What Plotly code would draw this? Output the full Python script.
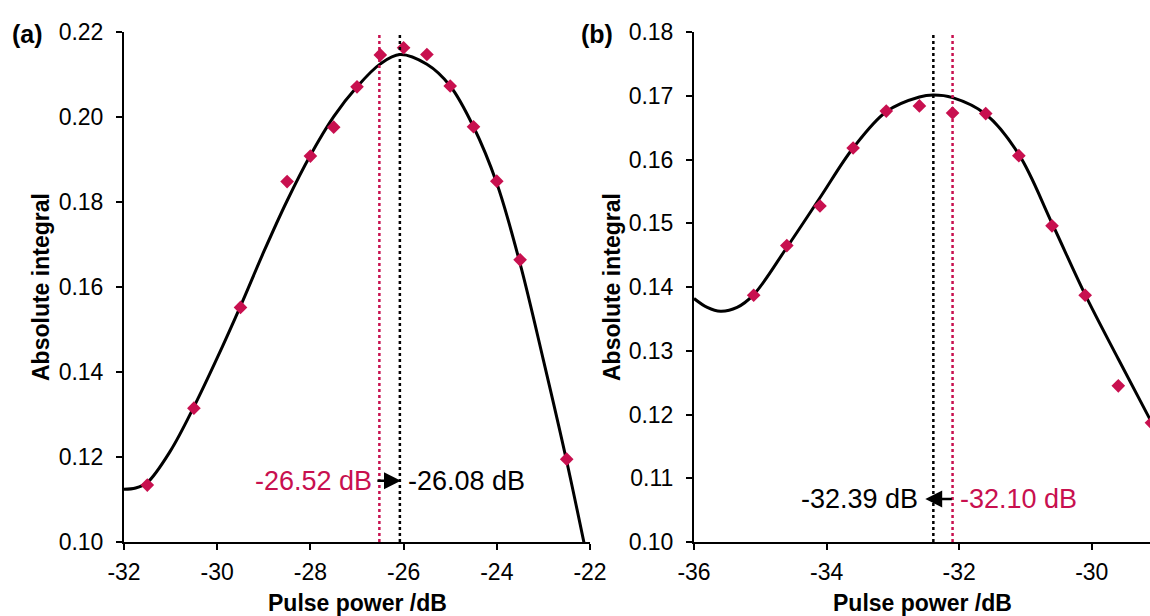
import plotly.graph_objects as go

# ---------------- data ----------------
# Panel (a): measured absolute integral vs pulse power
power_a = [-31.5, -30.5, -29.5, -28.5, -28.0, -27.5, -27.0, -26.5, -26.0,
           -25.5, -25.0, -24.5, -24.0, -23.5, -22.5]
integral_a = [0.1134, 0.1315, 0.1552, 0.1848, 0.1908, 0.1976, 0.2071, 0.2146,
              0.2163, 0.2147, 0.2073, 0.1977, 0.1849, 0.1664, 0.1195]
# Panel (a): fitted curve
fit_power_a = [-32.0, -31.75, -31.5, -31.0, -30.5, -30.0, -29.5, -29.0, -28.5,
               -28.0, -27.5, -27.0, -26.5, -26.08, -25.5, -25.0, -24.5, -24.0,
               -23.5, -23.0, -22.5, -22.0]
fit_integral_a = [0.1124, 0.1127, 0.1140, 0.1215, 0.1318, 0.1433, 0.1555,
                  0.1683, 0.1803, 0.1910, 0.2001, 0.2071, 0.2125, 0.2147,
                  0.2124, 0.2073, 0.1977, 0.1844, 0.1655, 0.1428, 0.1190, 0.0930]
# Panel (a): optimum powers [data maximum, fit maximum]
peak_a = [-26.52, -26.08]

# Panel (b): measured absolute integral vs pulse power
power_b = [-35.1, -34.6, -34.1, -33.6, -33.1, -32.6, -32.1, -31.6, -31.1,
           -30.6, -30.1, -29.6, -29.1]
integral_b = [0.1387, 0.1465, 0.1527, 0.1618, 0.1676, 0.1684, 0.1673, 0.1672,
              0.1606, 0.1496, 0.1387, 0.1245, 0.1187]
# Panel (b): fitted curve
fit_power_b = [-36.0, -35.8, -35.6, -35.35, -35.1, -34.6, -34.1, -33.6, -33.1,
               -32.6, -32.39, -32.1, -31.6, -31.1, -30.6, -30.1, -29.6, -29.1,
               -28.6]
fit_integral_b = [0.1382, 0.1368, 0.1362, 0.1368, 0.1388, 0.1462, 0.1540,
                  0.1618, 0.1675, 0.1698, 0.1701, 0.1697, 0.1671, 0.1608,
                  0.1500, 0.1388, 0.1287, 0.1188, 0.1092]
# Panel (b): optimum powers [fit maximum, data maximum]
peak_b = [-32.39, -32.10]

ticks_x_a = [-32, -30, -28, -26, -24, -22]
ticks_x_b = [-36, -34, -32, -30]
ticks_y_a = [0.10, 0.12, 0.14, 0.16, 0.18, 0.20, 0.22]
ticks_y_b = [0.10, 0.11, 0.12, 0.13, 0.14, 0.15, 0.16, 0.17, 0.18]

# ---------------- styling ----------------
RED = "#C8104F"
BLACK = "#000000"
FONT = "Liberation Sans, Arial, sans-serif"

fig = go.Figure()


def add_panel(xa, ya, fit_x, fit_y, px, py):
    fig.add_trace(go.Scatter(x=fit_x, y=fit_y, mode="lines",
                             line=dict(color=BLACK, width=3, shape="spline", smoothing=1.0),
                             xaxis=xa, yaxis=ya, showlegend=False, hoverinfo="skip"))
    fig.add_trace(go.Scatter(x=px, y=py, mode="markers",
                             marker=dict(symbol="diamond", size=10.5, color=RED),
                             xaxis=xa, yaxis=ya, showlegend=False))


add_panel("x", "y", fit_power_a, fit_integral_a, power_a, integral_a)
add_panel("x2", "y2", fit_power_b, fit_integral_b, power_b, integral_b)

# vertical dotted markers of the optimum powers
for xa, ya, xv, col, yr in [
    ("x", "y", peak_a[0], RED, [ticks_y_a[0], ticks_y_a[-1]]),
    ("x", "y", peak_a[1], BLACK, [ticks_y_a[0], ticks_y_a[-1]]),
    ("x2", "y2", peak_b[0], BLACK, [ticks_y_b[0], ticks_y_b[-1]]),
    ("x2", "y2", peak_b[1], RED, [ticks_y_b[0], ticks_y_b[-1]]),
]:
    fig.add_trace(go.Scatter(x=[xv, xv], y=yr, mode="lines",
                             line=dict(color=col, width=2.5, dash="dot"),
                             xaxis=xa, yaxis=ya, showlegend=False, hoverinfo="skip"))

axis_common = dict(showline=True, linecolor=BLACK, linewidth=2, ticks="outside",
                   ticklen=6, tickwidth=2, tickcolor=BLACK, showgrid=False,
                   zeroline=False, automargin=False,
                   tickfont=dict(family=FONT, size=23, color=BLACK))

W, H = 1150, 616
L, R, T, B = 124, 0, 32, 74
pw = W - L - R
xa_end = (590 - L) / pw
xb_start = (694 - L) / pw

fig.update_layout(
    width=W, height=H, margin=dict(l=L, r=R, t=T, b=B, autoexpand=False),
    paper_bgcolor="white", plot_bgcolor="white",
    font=dict(family=FONT, color=BLACK),
    xaxis=dict(domain=[0, xa_end], range=[-32, -22], tickvals=ticks_x_a,
               ticktext=[str(v) for v in ticks_x_a],
               anchor="y", ticklabelstandoff=2, **axis_common),
    yaxis=dict(domain=[0, 1], range=[0.10, 0.22], tickvals=ticks_y_a,
               ticktext=[f"{v:.2f}" for v in ticks_y_a],
               anchor="x", ticklabelstandoff=8, **axis_common),
    xaxis2=dict(domain=[xb_start, 1], range=[-36, -29.122], tickvals=ticks_x_b,
                ticktext=[str(v) for v in ticks_x_b],
                anchor="y2", ticklabelstandoff=2, **axis_common),
    yaxis2=dict(domain=[0, 1], range=[0.10, 0.18], tickvals=ticks_y_b,
                ticktext=[f"{v:.2f}" for v in ticks_y_b],
                anchor="x2", ticklabelstandoff=8, **axis_common),
)

ann = []
# axis titles, centred under / beside each plot area
for x0, x1 in [(0, xa_end), (xb_start, 1)]:
    ann.append(dict(text="<b>Pulse power /dB</b>", xref="paper", yref="paper",
                    x=(x0 + x1) / 2, y=0, yshift=-61, xanchor="center", yanchor="middle",
                    showarrow=False, font=dict(family=FONT, size=23, color=BLACK)))
for xc in [41, 612]:
    ann.append(dict(text="<b>Absolute integral</b>", xref="paper", yref="paper",
                    x=(xc - L) / pw, y=0.5, xanchor="center", yanchor="middle",
                    textangle=-90, showarrow=False,
                    font=dict(family=FONT, size=23, color=BLACK)))
# panel labels
for xc, lab in [(27, "(a)"), (597, "(b)")]:
    ann.append(dict(text=f"<b>{lab}</b>", xref="paper", yref="paper",
                    x=(xc - L) / pw, y=1, yshift=-2, xanchor="center", yanchor="middle",
                    showarrow=False, font=dict(family=FONT, size=25, color=BLACK)))

# optimum-power labels and arrows (shift from the data optimum to the fit optimum)
ya_lab, yb_lab = 0.1144, 0.10675
lab_font = 27
ann += [
    dict(text=f"{peak_a[0]:.2f} dB", xref="x", yref="y", x=peak_a[0], y=ya_lab,
         xanchor="right", yanchor="middle", xshift=-5, showarrow=False,
         font=dict(family=FONT, size=lab_font, color=RED)),
    dict(text=f"{peak_a[1]:.2f} dB", xref="x", yref="y", x=peak_a[1], y=ya_lab,
         xanchor="left", yanchor="middle", xshift=6, showarrow=False,
         font=dict(family=FONT, size=lab_font, color=BLACK)),
    dict(text="", xref="x", yref="y", x=peak_a[1], y=ya_lab, xshift=1,
         ax=-25, ay=0, showarrow=True, arrowhead=2, arrowsize=1.35,
         arrowwidth=2.5, arrowcolor=BLACK, standoff=0, startstandoff=0),
    dict(text=f"{peak_b[0]:.2f} dB", xref="x2", yref="y2", x=peak_b[0], y=yb_lab,
         xanchor="right", yanchor="middle", xshift=-13, showarrow=False,
         font=dict(family=FONT, size=lab_font, color=BLACK)),
    dict(text=f"{peak_b[1]:.2f} dB", xref="x2", yref="y2", x=peak_b[1], y=yb_lab,
         xanchor="left", yanchor="middle", xshift=5, showarrow=False,
         font=dict(family=FONT, size=lab_font, color=RED)),
    dict(text="", xref="x2", yref="y2", x=peak_b[0], y=yb_lab, xshift=-8,
         ax=28, ay=0, showarrow=True, arrowhead=2, arrowsize=1.35,
         arrowwidth=2.5, arrowcolor=BLACK, standoff=0, startstandoff=0),
]
fig.update_layout(annotations=ann)

fig.write_html("out.html")
